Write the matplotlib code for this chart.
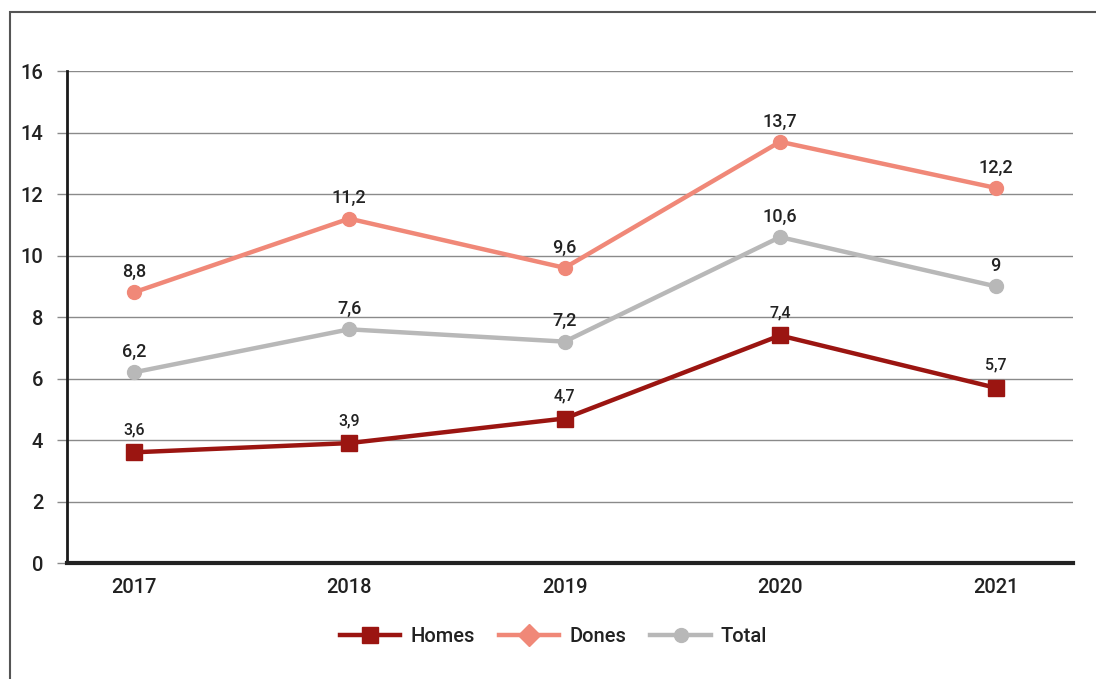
import matplotlib
matplotlib.use("Agg")
import matplotlib.pyplot as plt
from matplotlib.lines import Line2D
from matplotlib.patches import Rectangle

years = ["2017", "2018", "2019", "2020", "2021"]
homes = [3.6, 3.9, 4.7, 7.4, 5.7]
dones = [8.8, 11.2, 9.6, 13.7, 12.2]
total = [6.2, 7.6, 7.2, 10.6, 9.0]

c_homes = "#9b1511"
c_dones = "#f08878"
c_total = "#b8b8b8"

plt.rcParams["font.family"] = ["Roboto", "DejaVu Sans"]

fig = plt.figure(figsize=(10.96, 6.79), dpi=100)
ax = fig.add_axes([0.0611, 0.1708, 0.918, 0.7246])

# frame around the figure (left and top edges only visible)
fig.patches.append(Rectangle((10 / 1096, -0.1), 1.2, 1 - 12 / 679 + 0.1,
                             transform=fig.transFigure, fill=False,
                             edgecolor="#555555", linewidth=1.5))

x = range(len(years))
ax.plot(x, total, color=c_total, lw=3.2, marker="o", ms=10, zorder=3)
ax.plot(x, dones, color=c_dones, lw=3.2, marker="o", ms=10, zorder=3)
ax.plot(x, homes, color=c_homes, lw=3.2, marker="s", ms=11, zorder=4)

def fmt(v):
    s = f"{v:g}"
    return s.replace(".", ",")

for i, v in enumerate(dones):
    ax.annotate(fmt(v), (i, v), xytext=(0, 11), textcoords="offset points",
                ha="center", fontsize=13, fontweight="medium", color="#222222")
for i, v in enumerate(total):
    ax.annotate(fmt(v), (i, v), xytext=(0, 11), textcoords="offset points",
                ha="center", fontsize=13, fontweight="medium", color="#222222")
for i, v in enumerate(homes):
    ax.annotate(fmt(v), (i, v), xytext=(0, 13), textcoords="offset points",
                ha="center", fontsize=11.5, fontweight="medium", color="#222222")

ax.set_ylim(0, 16)
ax.set_yticks(range(0, 17, 2))
ax.set_xlim(-0.31, 4.36)
ax.set_xticks(list(x))
ax.set_xticklabels(years)
ax.grid(axis="y", color="#8a8a8a", lw=1.0)
ax.set_axisbelow(True)

for side in ["top", "right"]:
    ax.spines[side].set_visible(False)
ax.spines["left"].set_linewidth(2.0)
ax.spines["left"].set_color("#1a1a1a")
ax.spines["bottom"].set_linewidth(3.0)
ax.spines["bottom"].set_color("#222222")
ax.tick_params(axis="y", length=7, width=1, color="#8a8a8a", pad=10,
               labelsize=14.5, labelcolor="#222222")
ax.tick_params(axis="x", length=0, pad=11, labelsize=14.5, labelcolor="#222222")
for lbl in ax.get_xticklabels() + ax.get_yticklabels():
    lbl.set_fontweight("medium")

handles = [
    Line2D([], [], color=c_homes, lw=3.2, marker="s", ms=12),
    Line2D([], [], color=c_dones, lw=3.2, marker="D", ms=11),
    Line2D([], [], color=c_total, lw=3.2, marker="o", ms=10),
]
fig.legend(handles, ["Homes", "Dones", "Total"], loc="center",
           bbox_to_anchor=(0.505, 1 - 637 / 679), ncol=3, frameon=False,
           prop={"size": 14.5, "weight": "medium"}, handlelength=3.0,
           columnspacing=1.2, handletextpad=0.5, labelcolor="#222222")

fig.savefig("out.png", dpi=100)
